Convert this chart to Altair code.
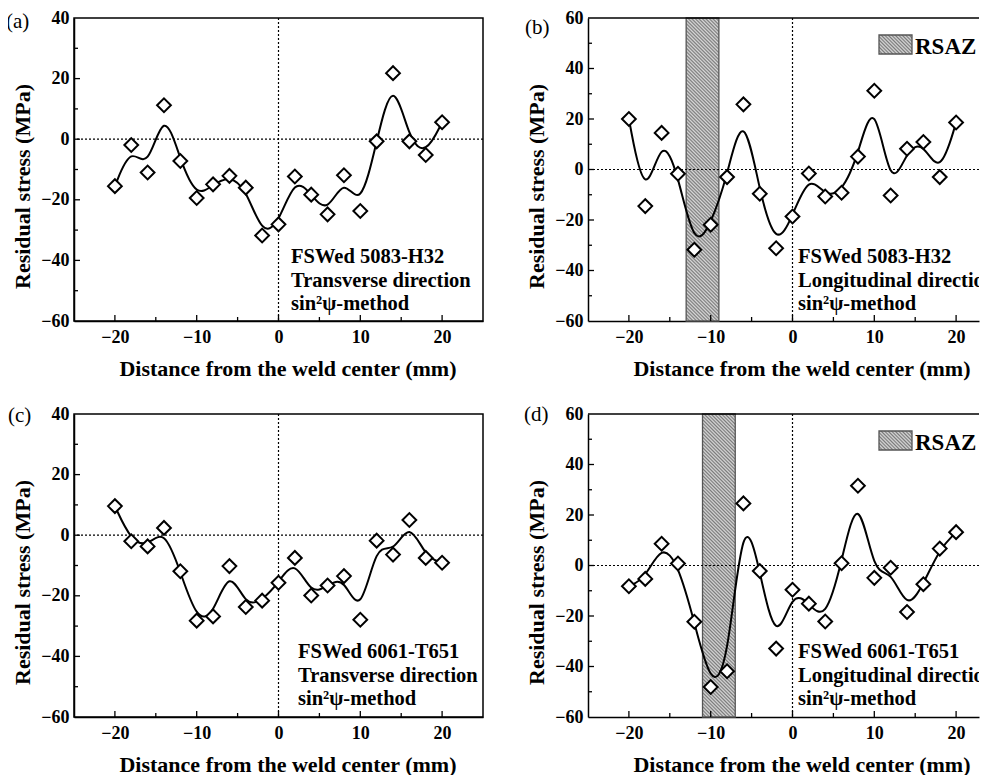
import altair as alt
import pandas as pd

# ---- data ----
X_POS = list(range(-20, 21, 2))
A_VALS = [-15.5, -1.9, -11.0, 11.2, -7.2, -19.4, -14.9, -12.1, -16.0, -31.8, -28.1,
          -12.3, -18.3, -24.8, -11.9, -23.7, -0.7, 21.8, -0.7, -5.2, 5.6]
B_VALS = [20.0, -14.5, 14.5, -1.7, -31.8, -21.9, -3.0, 25.8, -9.6, -31.2, -18.6,
          -1.6, -10.7, -9.2, 5.1, 31.2, -10.3, 8.2, 10.9, -3.0, 18.6]
C_VALS = [9.6, -2.0, -3.7, 2.4, -11.9, -28.2, -26.8, -10.2, -23.7, -21.6, -15.7,
          -7.5, -19.9, -16.6, -13.5, -27.9, -1.8, -6.4, 5.0, -7.5, -9.1]
D_VALS = [-8.2, -5.3, 8.6, 0.8, -22.3, -48.1, -41.9, 24.6, -2.2, -32.9, -9.6,
          -15.1, -22.2, 0.9, 31.6, -4.9, -0.9, -18.4, -7.4, 6.7, 13.2]

B_BAND = [-13, -9]
D_BAND = [-11, -7]

A_TEXT = ["FSWed 5083-H32", "Transverse direction", "sin²ψ-method"]
B_TEXT = ["FSWed 5083-H32", "Longitudinal direction", "sin²ψ-method"]
C_TEXT = ["FSWed 6061-T651", "Transverse direction", "sin²ψ-method"]
D_TEXT = ["FSWed 6061-T651", "Longitudinal direction", "sin²ψ-method"]

X_TICKS = [-20, -10, 0, 10, 20]
X_TITLE = "Distance from the weld center (mm)"
Y_TITLE = "Residual stress (MPa)"

W, H = 409, 303
PX_PER_MM = W / 50.0
W_RIGHT = 391                      # right column is cut by the page edge
X_MAX_RIGHT = -25 + W_RIGHT / PX_PER_MM
FONT = "Liberation Serif"
DARK, LIGHT = "#7c7c7c", "#dadada"


def hatch(w, h, period=3.5):
    """diagonal stripe fill built as a linear gradient (objectBoundingBox units)"""
    span = w + h
    c = span / (w * w + h * h)
    stops = []
    k = 0
    while k * period <= span:
        stops.append({"offset": k * period / span, "color": DARK})
        mid = (k + 0.5) * period / span
        if mid <= 1:
            stops.append({"offset": mid, "color": LIGHT})
        k += 1
    return {"gradient": "linear", "x1": 0, "y1": 1, "x2": c * w, "y2": 1 - c * h,
            "stops": stops}


def panel(vals, ydom, ystep, label, label_xy, lines, text_xy, band=None, right=False):
    width = W_RIGHT if right else W
    xmax = X_MAX_RIGHT if right else 25
    xs = alt.Scale(domain=[-25, xmax], nice=False, zero=False)
    ys = alt.Scale(domain=ydom, nice=False, zero=False)
    xaxis = alt.Axis(values=X_TICKS, title=X_TITLE, ticks=False, tickSize=0,
                     grid=False, labelPadding=7, titleBaseline="alphabetic",
                     titleX=W / 2 + 9, titleY=54)
    yvals = list(range(ydom[0], ydom[1] + 1, ystep))
    yaxis = alt.Axis(values=yvals, title=Y_TITLE, ticks=False, tickSize=0,
                     grid=False, labelPadding=5, titleX=-40, titleY=168)

    def xenc():
        return alt.X("x:Q", scale=xs, axis=xaxis)

    def yenc():
        return alt.Y("y:Q", scale=ys, axis=yaxis)

    df = pd.DataFrame({"x": X_POS, "y": vals})
    dummy = pd.DataFrame({"d": [0]})
    layers = []
    if band is not None:
        bdf = pd.DataFrame({"x": [band[0]], "x2": [band[1]]})
        bw = (band[1] - band[0]) * PX_PER_MM
        layers.append(alt.Chart(bdf).mark_rect(fill=hatch(bw, H), stroke="#555555",
                                               strokeWidth=1.3).encode(
            x=xenc(), x2="x2:Q", y=alt.value(0), y2=alt.value(H)))
    layers.append(alt.Chart(pd.DataFrame({"y": [0]})).mark_rule(
        color="black", strokeDash=[2, 2], strokeWidth=1.2).encode(y=yenc()))
    layers.append(alt.Chart(pd.DataFrame({"x": [0]})).mark_rule(
        color="black", strokeDash=[2, 2], strokeWidth=1.2).encode(x=xenc()))
    if right:
        # top frame line (the right frame edge lies beyond the page)
        layers.append(alt.Chart(dummy).mark_rule(color="black", strokeWidth=1.5).encode(
            x=alt.value(0), x2=alt.value(width), y=alt.value(0)))
    # inward ticks
    xmaj = [v for v in range(-20, 21, 10)]
    xmin = [v for v in range(-15, 16, 10)]
    ymaj = yvals[1:-1]
    ymin = [v + ystep // 2 for v in yvals[:-1]]
    layers.append(alt.Chart(pd.DataFrame({"x": xmaj})).mark_rule(
        color="black", strokeWidth=1.3).encode(x=xenc(), y=alt.value(H), y2=alt.value(H - 6)))
    layers.append(alt.Chart(pd.DataFrame({"x": xmin})).mark_rule(
        color="black", strokeWidth=1.3).encode(x=xenc(), y=alt.value(H), y2=alt.value(H - 4)))
    layers.append(alt.Chart(pd.DataFrame({"y": ymaj})).mark_rule(
        color="black", strokeWidth=1.3).encode(y=yenc(), x=alt.value(0), x2=alt.value(6)))
    layers.append(alt.Chart(pd.DataFrame({"y": ymin})).mark_rule(
        color="black", strokeWidth=1.3).encode(y=yenc(), x=alt.value(0), x2=alt.value(4)))
    # smooth curve and points
    layers.append(alt.Chart(df).mark_line(interpolate="basis", color="black",
                                          strokeWidth=2).encode(x=xenc(), y=yenc()))
    layers.append(alt.Chart(df).mark_point(shape="diamond", size=190, filled=True,
                                           fill="white", fillOpacity=1, stroke="black",
                                           strokeWidth=2, opacity=1).encode(x=xenc(), y=yenc()))
    layers.append(alt.Chart(dummy).mark_text(
        text=lines, font=FONT, fontSize=20.5, fontWeight="bold", align="left",
        baseline="alphabetic", lineHeight=23.5, color="black", clip=True).encode(
        x=alt.value(text_xy[0]), y=alt.value(text_xy[1])))
    layers.append(alt.Chart(dummy).mark_text(
        text=label, font=FONT, fontSize=21, fontWeight="normal", align="left",
        baseline="alphabetic", color="black").encode(
        x=alt.value(label_xy[0]), y=alt.value(label_xy[1])))
    if band is not None:
        layers.append(alt.Chart(dummy).mark_rect(fill=hatch(33, 19), stroke="#555555",
                                                 strokeWidth=1.3).encode(
            x=alt.value(291), x2=alt.value(324), y=alt.value(17), y2=alt.value(36)))
        layers.append(alt.Chart(dummy).mark_text(
            text="RSAZ", font=FONT, fontSize=23, fontWeight="bold", align="left",
            baseline="alphabetic", color="black").encode(
            x=alt.value(327), y=alt.value(36)))
    ch = alt.layer(*layers).properties(width=width, height=H)
    if right:
        ch = ch.properties(view=alt.ViewConfig(stroke=None))
    return ch


pa = panel(A_VALS, [-60, 40], 20, "(a)", (-68, 9.7), A_TEXT, (217, 245))
pb = panel(B_VALS, [-60, 60], 20, "(b)", (-63, 16), B_TEXT, (210, 245),
           band=B_BAND, right=True)
pc = panel(C_VALS, [-60, 40], 20, "(c)", (-66, 8), C_TEXT, (224, 244))
pd_ = panel(D_VALS, [-60, 60], 20, "(d)", (-64, 7), D_TEXT, (210, 244),
            band=D_BAND, right=True)

chart = alt.concat(
    pa, pb, pc, pd_, columns=2,
    spacing={"row": 93, "column": 105}, bounds="flush",
).properties(
    padding={"left": -3, "top": 0, "right": 0, "bottom": 0},
    background="white",
).configure_view(
    stroke="black", strokeWidth=1.5,
).configure_axis(
    domainColor="black", domainWidth=1.5,
    labelFont=FONT, labelFontSize=18, labelFontWeight="bold", labelColor="black",
    titleFont=FONT, titleFontSize=22, titleFontWeight="bold", titleColor="black",
)

chart.save("out.html", embed_options={"renderer": "svg", "actions": False})
